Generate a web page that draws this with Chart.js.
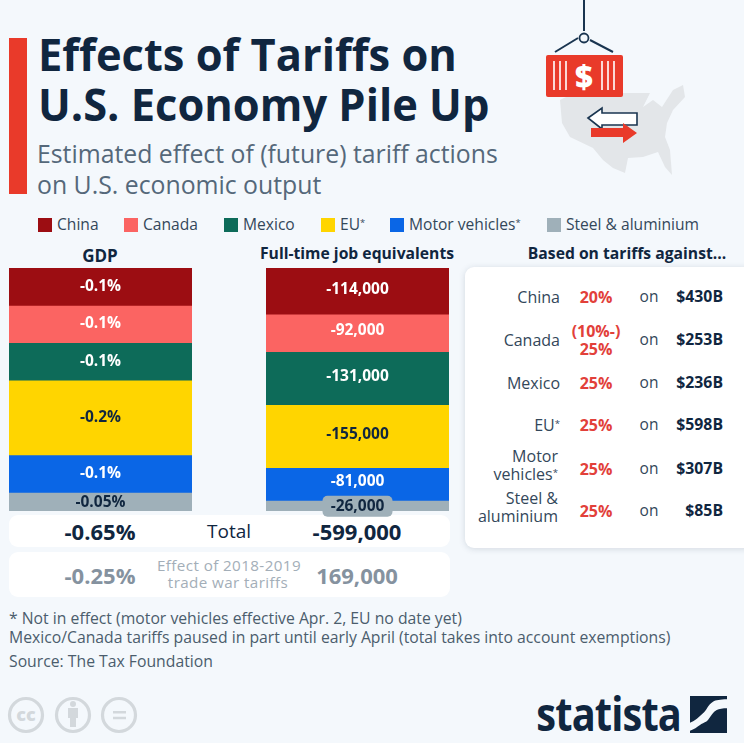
<!DOCTYPE html>
<html>
<head>
<meta charset="utf-8">
<script src="https://cdn.jsdelivr.net/npm/chart.js@4"></script>
<style>
html, body { margin: 0; padding: 0; }
body { width: 744px; height: 743px; background: #f4f8fc; position: relative; overflow: hidden; font-family: "Open Sans", sans-serif; color: #10263f; }
.t { position: absolute; white-space: nowrap; line-height: 1; }
.c { transform: translate(-50%, -50%); text-align: center; }
.r { transform: translate(-100%, -50%); text-align: right; }
.l { transform: translateY(-50%); }
.b { font-weight: 700; }
.box { position: absolute; background: #fff; border-radius: 9px; }
canvas { position: absolute; }
sup { font-size: 60%; line-height: 0; vertical-align: 0.45em; }
.title { font-size: 45px; transform: translateY(-50%) scaleX(.965); transform-origin: 0 50%; }
</style>
</head>
<body>
<div style="position:absolute;left:9px;top:38px;width:18px;height:156px;background:#e93a2a"></div>
<div class="t b title" style="left:38px;top:53px">Effects of Tariffs on</div>
<div class="t b title" style="left:38px;top:103px">U.S. Economy Pile Up</div>
<div class="t l" style="left:37px;top:153px;font-size:24.8px;color:#55687a">Estimated effect of (future) tariff actions</div>
<div class="t l" style="left:37px;top:184px;font-size:24.8px;color:#55687a">on U.S. economic output</div>

<svg style="position:absolute;left:530px;top:0" width="170" height="180" viewBox="0 0 170 180">
  <path d="M30 100 L40 95 L87 93 L120 93 L113 107 L123 100 L132 107 L143 90 L153 85 L155 97 L143 110 L137 123 L135 137 L140 150 L142 175 L135 167 L128 152 L113 157 L98 158 L95 173 L83 168 L73 160 L63 148 L40 137 L32 123 Z" fill="#e3e6e9"/>
  <path d="M54 0 V31 M25 52 L48 38 M83 52 L60 40" stroke="#1a3550" stroke-width="2" fill="none"/>
  <circle cx="54" cy="38" r="4.500" fill="none" stroke="#1a3550" stroke-width="1.8"/>
  <rect x="16" y="55" width="77" height="42" rx="2" fill="#e93a2a"/>
  <path d="M24 61V90 M30 61V90 M36 61V90 M72 61V90 M78 61V90 M84 61V90" stroke="#fff" stroke-width="1.6"/>
  <text x="54" y="88" text-anchor="middle" font-family="Open Sans" font-weight="800" font-size="31" fill="#fff">$</text>
  <path d="M58 118 L72 108 V113 H107 V125 H72 V129 Z" fill="#fff" stroke="#1a3550" stroke-width="1.6"/>
  <path d="M61 128 H93 V123 L107 133 L93 143 V137 H61 Z" fill="#e93a2a"/>
</svg>

<div id="legend"></div>

<div class="t b c" style="left:100px;top:255px;font-size:17px">GDP</div>
<div class="t b c" style="left:357px;top:254px;font-size:15.7px">Full-time job equivalents</div>
<div class="t b c" style="left:627px;top:254px;font-size:15.7px">Based on tariffs against...</div>

<div class="box" style="left:9px;top:515px;width:441px;height:32px"></div>
<div class="box" style="left:9px;top:552px;width:441px;height:45px"></div>
<div class="t b c" style="left:100px;top:531px;font-size:22px">-0.65%</div>
<div class="t c" style="left:229px;top:531px;font-size:19px">Total</div>
<div class="t b c" style="left:357px;top:531px;font-size:22px">-599,000</div>
<div class="t b c" style="left:100px;top:575px;font-size:22px;color:#85929f">-0.25%</div>
<div class="t c" style="left:229px;top:566px;font-size:15.2px;letter-spacing:.4px;color:#a3aeb8">Effect of 2018-2019</div>
<div class="t c" style="left:228px;top:583px;font-size:15.2px;letter-spacing:.4px;color:#a3aeb8">trade war tariffs</div>
<div class="t b c" style="left:357px;top:575px;font-size:22px;color:#85929f">169,000</div>

<canvas id="gdp" style="left:9px;top:268px"></canvas>
<canvas id="jobs" style="left:266px;top:268px"></canvas>

<div class="box" style="left:465px;top:267px;width:290px;height:281px;box-shadow:0 1px 6px rgba(60,80,100,.18)"></div>
<div id="tariffs"></div>

<div class="t l" style="left:9px;top:619px;font-size:15.75px;color:#4b5d6d">* Not in effect (motor vehicles effective Apr. 2, EU no date yet)</div>
<div class="t l" style="left:9px;top:638px;font-size:15.75px;color:#4b5d6d">Mexico/Canada tariffs paused in part until early April (total takes into account exemptions)</div>
<div class="t l" style="left:9px;top:662px;font-size:15.75px;color:#4b5d6d">Source: The Tax Foundation</div>

<svg style="position:absolute;left:0;top:690px" width="150" height="50" viewBox="0 0 150 50">
  <g fill="none" stroke="#d3d8dc" stroke-width="3.2">
    <circle cx="26" cy="25" r="16.5"/><circle cx="73" cy="25" r="16.5"/><circle cx="119" cy="25" r="16.5"/>
  </g>
  <text x="26" y="31" text-anchor="middle" font-family="Open Sans" font-weight="800" font-size="18" fill="#d3d8dc">cc</text>
  <circle cx="73" cy="14" r="3" fill="#d3d8dc"/>
  <path d="M68 18 H78 V28 H76 V37 H70 V28 H68 Z" fill="#d3d8dc"/>
  <path d="M113 21 H126 V23.500 H113 Z M113 26.700 H126 V29.300 H113 Z" fill="#d3d8dc"/>
</svg>
<div class="t b" style="left:681px;top:713px;font-size:46px;letter-spacing:-1px;transform:translate(-100%,-50%) scaleX(.865);transform-origin:100% 50%">statista</div>
<svg style="position:absolute;left:690px;top:696px" width="37" height="37" viewBox="0 0 37 37">
  <rect width="37" height="37" fill="#10263f"/>
  <path d="M37 3.300 C30 3.500 26 4 23 5.700 C18 8.500 17 14 13 17.300 C9 21 5 25 0 26.700 V34.700 C4 33.500 7 31 10 29 C14 26 15 27 18 24 C21 20 23 16 26.700 14 C29 12.800 33 12.300 37 12.300 Z" fill="#f4f8fc"/>
</svg>

<script>
const categories = ["China", "Canada", "Mexico", "EU", "Motor vehicles", "Steel & aluminium"];
const legendNames = ["China", "Canada", "Mexico", "EU<sup>*</sup>", "Motor vehicles<sup>*</sup>", "Steel &amp; aluminium"];
const colors = ["#9c0d12", "#fb6462", "#0d6b59", "#ffd500", "#0a66e6", "#9fb0b9"];
const labelColors = ["#fff", "#fff", "#fff", "#10263f", "#fff", "#10263f"];

const gdpValues = [-0.1, -0.1, -0.1, -0.2, -0.1, -0.05];
const jobValues = [-114000, -92000, -131000, -155000, -81000, -26000];

const rates = ["20%", "(10%-)<br>25%", "25%", "25%", "25%", "25%"];
const amounts = ["$430B", "$253B", "$236B", "$598B", "$307B", "$85B"];
const tariffNames = ["China", "Canada", "Mexico", "EU<sup>*</sup>", "Motor<br>vehicles<sup>*</sup>", "Steel &amp;<br>aluminium"];

const legendX = [38, 124, 224, 321, 390, 547];
let legendHtml = "";
legendNames.forEach((name, i) => {
    legendHtml += `<div style="position:absolute;left:${legendX[i]}px;top:218px;width:14px;height:14px;background:${colors[i]}"></div>`;
    legendHtml += `<div class="t l" style="left:${legendX[i] + 19}px;top:225px;font-size:15.6px;color:#33475a">${name}</div>`;
});
document.querySelector("#legend").innerHTML = legendHtml;

const rowY = [297, 340, 383, 425, 469, 511];
let tableHtml = "";
tariffNames.forEach((name, i) => {
    tableHtml += `<div class="t r" style="left:${i > 3 ? 558 : 560}px;top:${i > 3 ? rowY[i] - 4 : rowY[i]}px;font-size:16px;line-height:18px;color:#33475a">${name}</div>`;
    tableHtml += `<div class="t b c" style="left:596px;top:${rowY[i]}px;font-size:16px;line-height:18px;color:#e2403a">${rates[i]}</div>`;
    tableHtml += `<div class="t c" style="left:649px;top:${rowY[i]}px;font-size:15.5px;color:#33475a">on</div>`;
    tableHtml += `<div class="t b r" style="left:723px;top:${rowY[i]}px;font-size:15.8px">${amounts[i]}</div>`;
});
document.querySelector("#tariffs").innerHTML = tableHtml;

// labels inside the segments, the last job label sits on a grey tag
const segmentLabels = {
    id: "segmentLabels",
    afterDatasetsDraw(chart, args, opts) {
        const ctx = chart.ctx;
        ctx.save();
        ctx.textAlign = "center";
        ctx.textBaseline = "middle";
        ctx.font = `700 ${opts.size}px 'Open Sans'`;
        chart.data.datasets.forEach((ds, i) => {
            const bar = chart.getDatasetMeta(i).data[0];
            let y = (bar.y + bar.base) / 2 + opts.shift;
            if (i === 5) y += opts.lastShift;
            if (opts.tagLast && i === 5) {
                ctx.fillStyle = "#9fb0b9";
                ctx.beginPath();
                ctx.roundRect(bar.x - 35, y - 11, 70, 21, 5);
                ctx.fill();
            }
            ctx.fillStyle = labelColors[i];
            ctx.fillText(opts.format(ds.data[0]), bar.x, y);
        });
        ctx.restore();
    }
};

const makeChart = (id, name, values, labelOpts) => {
    const canvas = document.querySelector(id);
    canvas.width = 183;
    canvas.height = 254;
    return new Chart(canvas, {
        type: "bar",
        data: {
            labels: [name],
            datasets: categories.map((cat, i) => ({
                label: cat,
                data: [values[i]],
                backgroundColor: colors[i],
                borderWidth: 0,
                barPercentage: 1,
                categoryPercentage: 1
            }))
        },
        plugins: [segmentLabels],
        options: {
            responsive: false,
            animation: false,
            layout: { padding: { bottom: 11 } },
            scales: {
                x: { stacked: true, display: false },
                y: { stacked: true, display: false, min: values.reduce((a, b) => a + b, 0), max: 0 }
            },
            plugins: {
                legend: { display: false },
                tooltip: { enabled: false },
                segmentLabels: labelOpts
            }
        }
    });
};

makeChart("#gdp", "GDP", gdpValues, { format: v => `${v}%`, size: 15.5, shift: 0, lastShift: 1, tagLast: false });
makeChart("#jobs", "Full-time job equivalents", jobValues, { format: v => v.toLocaleString("en-US"), size: 15.5, shift: -2, lastShift: 3, tagLast: true });
</script>
</body>
</html>
